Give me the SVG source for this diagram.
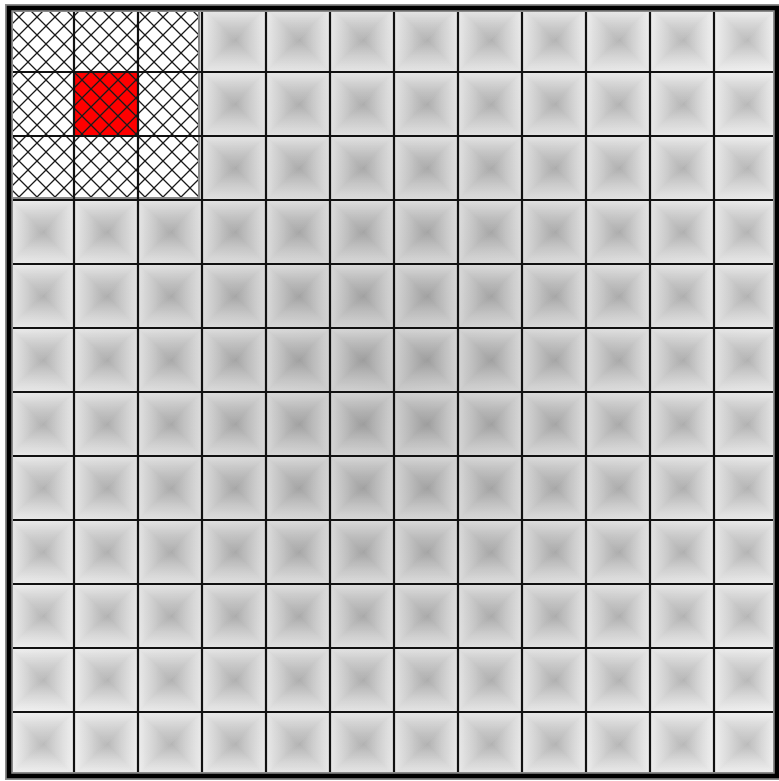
<svg xmlns="http://www.w3.org/2000/svg" width="779" height="781" viewBox="0 0 779 781">
<style>
.grid line{stroke:#111;stroke-width:2.2}
.hatch{stroke:#1a1a1a;stroke-width:1.3;fill:none}
</style>
<defs>
<radialGradient id="bg" gradientUnits="userSpaceOnUse" cx="394" cy="392" r="550">
<stop offset="0" stop-color="#c4c4c4"/>
<stop offset="1" stop-color="#f3f3f3"/>
</radialGradient>
<linearGradient id="gT" x1="0" y1="0" x2="0" y2="1"><stop offset="0" stop-color="#fff" stop-opacity="0.25"/><stop offset="1" stop-color="#000" stop-opacity="0.2"/></linearGradient>
<linearGradient id="gB" x1="0" y1="1" x2="0" y2="0"><stop offset="0" stop-color="#fff" stop-opacity="0.15"/><stop offset="1" stop-color="#000" stop-opacity="0.22"/></linearGradient>
<linearGradient id="gL" x1="0" y1="0" x2="1" y2="0"><stop offset="0" stop-color="#fff" stop-opacity="0.2"/><stop offset="1" stop-color="#000" stop-opacity="0.21"/></linearGradient>
<linearGradient id="gR" x1="1" y1="0" x2="0" y2="0"><stop offset="0" stop-color="#fff" stop-opacity="0.18"/><stop offset="1" stop-color="#000" stop-opacity="0.23"/></linearGradient>
<pattern id="pyr" patternUnits="userSpaceOnUse" x="10" y="8" width="64" height="64">
<polygon points="0,0 64,0 32,32" fill="url(#gT)"/>
<polygon points="0,64 64,64 32,32" fill="url(#gB)"/>
<polygon points="0,0 0,64 32,32" fill="url(#gL)"/>
<polygon points="64,0 64,64 32,32" fill="url(#gR)"/>
</pattern>
<pattern id="xh" patternUnits="userSpaceOnUse" x="10" y="8" width="18" height="18">
<path class="hatch" d="M0,0L18,18M18,0L0,18"/>
</pattern>
</defs>
<rect x="10" y="8" width="768" height="768" fill="url(#bg)"/>
<rect x="10" y="8" width="768" height="768" fill="url(#pyr)"/>
<g id="hatched">
<rect x="10" y="8" width="190" height="191" fill="#fff"/>
<rect id="selected" x="74" y="72" width="64" height="64" fill="#ff0000"/>
<rect x="10" y="8" width="190" height="191" fill="url(#xh)"/>
<rect x="10" y="8" width="189" height="190" fill="none" stroke="#8a8a8a" stroke-width="2"/>
</g>
<g class="grid" id="gridlines">
<line x1="74" y1="8" x2="74" y2="776"/>
<line x1="138" y1="8" x2="138" y2="776"/>
<line x1="202" y1="8" x2="202" y2="776"/>
<line x1="266" y1="8" x2="266" y2="776"/>
<line x1="330" y1="8" x2="330" y2="776"/>
<line x1="394" y1="8" x2="394" y2="776"/>
<line x1="458" y1="8" x2="458" y2="776"/>
<line x1="522" y1="8" x2="522" y2="776"/>
<line x1="586" y1="8" x2="586" y2="776"/>
<line x1="650" y1="8" x2="650" y2="776"/>
<line x1="714" y1="8" x2="714" y2="776"/>
<line x1="10" y1="72" x2="778" y2="72"/>
<line x1="10" y1="136" x2="778" y2="136"/>
<line x1="10" y1="200" x2="778" y2="200"/>
<line x1="10" y1="264" x2="778" y2="264"/>
<line x1="10" y1="328" x2="778" y2="328"/>
<line x1="10" y1="392" x2="778" y2="392"/>
<line x1="10" y1="456" x2="778" y2="456"/>
<line x1="10" y1="520" x2="778" y2="520"/>
<line x1="10" y1="584" x2="778" y2="584"/>
<line x1="10" y1="648" x2="778" y2="648"/>
<line x1="10" y1="712" x2="778" y2="712"/>
</g>
<g id="border">
<rect x="9" y="8" width="768" height="768" fill="none" stroke="#8c8c8c" stroke-width="8"/>
<rect x="9" y="8" width="768" height="768" fill="none" stroke="#000" stroke-width="4.5"/>
</g>
</svg>
